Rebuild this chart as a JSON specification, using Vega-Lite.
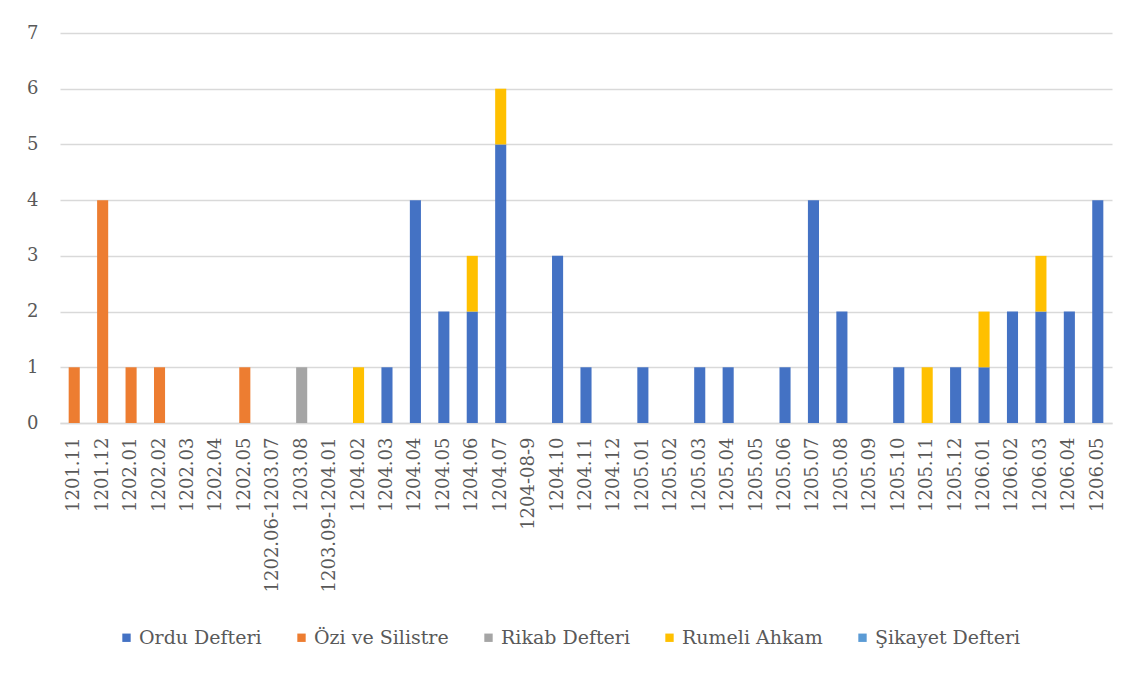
{
  "$schema": "https://vega.github.io/schema/vega-lite/v6.json",
  "width": 1052,
  "height": 390,
  "autosize": {"type": "none"},
  "padding": {"left": 60, "top": 33, "right": 26, "bottom": 252},
  "background": "white",
  "config": {
    "view": {"stroke": null},
    "font": "DejaVu Serif",
    "axis": {"labelFont": "DejaVu Serif", "labelColor": "#595959", "labelFontSize": 18}
  },
  "data": {
    "values": [
      {"period": "1201.11", "series": "Özi ve Silistre", "count": 1},
      {"period": "1201.12", "series": "Özi ve Silistre", "count": 4},
      {"period": "1202.01", "series": "Özi ve Silistre", "count": 1},
      {"period": "1202.02", "series": "Özi ve Silistre", "count": 1},
      {"period": "1202.05", "series": "Özi ve Silistre", "count": 1},
      {"period": "1203.08", "series": "Rikab Defteri", "count": 1},
      {"period": "1204.02", "series": "Rumeli Ahkam", "count": 1},
      {"period": "1204.03", "series": "Ordu Defteri", "count": 1},
      {"period": "1204.04", "series": "Ordu Defteri", "count": 4},
      {"period": "1204.05", "series": "Ordu Defteri", "count": 2},
      {"period": "1204.06", "series": "Ordu Defteri", "count": 2},
      {"period": "1204.06", "series": "Rumeli Ahkam", "count": 1},
      {"period": "1204.07", "series": "Ordu Defteri", "count": 5},
      {"period": "1204.07", "series": "Rumeli Ahkam", "count": 1},
      {"period": "1204.10", "series": "Ordu Defteri", "count": 3},
      {"period": "1204.11", "series": "Ordu Defteri", "count": 1},
      {"period": "1205.01", "series": "Ordu Defteri", "count": 1},
      {"period": "1205.03", "series": "Ordu Defteri", "count": 1},
      {"period": "1205.04", "series": "Ordu Defteri", "count": 1},
      {"period": "1205.06", "series": "Ordu Defteri", "count": 1},
      {"period": "1205.07", "series": "Ordu Defteri", "count": 4},
      {"period": "1205.08", "series": "Ordu Defteri", "count": 2},
      {"period": "1205.10", "series": "Ordu Defteri", "count": 1},
      {"period": "1205.11", "series": "Rumeli Ahkam", "count": 1},
      {"period": "1205.12", "series": "Ordu Defteri", "count": 1},
      {"period": "1206.01", "series": "Ordu Defteri", "count": 1},
      {"period": "1206.01", "series": "Rumeli Ahkam", "count": 1},
      {"period": "1206.02", "series": "Ordu Defteri", "count": 2},
      {"period": "1206.03", "series": "Ordu Defteri", "count": 2},
      {"period": "1206.03", "series": "Rumeli Ahkam", "count": 1},
      {"period": "1206.04", "series": "Ordu Defteri", "count": 2},
      {"period": "1206.05", "series": "Ordu Defteri", "count": 4}
    ]
  },
  "mark": {"type": "bar"},
  "encoding": {
    "x": {
      "field": "period",
      "type": "nominal",
      "scale": {
        "domain": ["1201.11", "1201.12", "1202.01", "1202.02", "1202.03", "1202.04", "1202.05", "1202.06-1203.07", "1203.08", "1203.09-1204.01", "1204.02", "1204.03", "1204.04", "1204.05", "1204.06", "1204.07", "1204-08-9", "1204.10", "1204.11", "1204.12", "1205.01", "1205.02", "1205.03", "1205.04", "1205.05", "1205.06", "1205.07", "1205.08", "1205.09", "1205.10", "1205.11", "1205.12", "1206.01", "1206.02", "1206.03", "1206.04", "1206.05"],
        "paddingInner": 0.61,
        "paddingOuter": 0.305
      },
      "axis": {
        "title": null,
        "labelAngle": -90,
        "ticks": false,
        "labelPadding": 14,
        "domainColor": "#d9d9d9",
        "domainWidth": 1.5,
        "labelBaseline": "middle"
      }
    },
    "y": {
      "field": "count",
      "type": "quantitative",
      "aggregate": "sum",
      "stack": "zero",
      "scale": {"domain": [0, 7], "nice": false},
      "axis": {
        "title": null,
        "values": [0, 1, 2, 3, 4, 5, 6, 7],
        "domain": false,
        "ticks": false,
        "labelPadding": 22,
        "gridColor": "#d9d9d9",
        "gridWidth": 1.5
      }
    },
    "order": {"field": "series", "sort": "ascending"},
    "color": {
      "field": "series",
      "type": "nominal",
      "scale": {
        "domain": ["Ordu Defteri", "Özi ve Silistre", "Rikab Defteri", "Rumeli Ahkam", "Şikayet Defteri"],
        "range": ["#4472C4", "#ED7D31", "#A5A5A5", "#FFC000", "#5B9BD5"]
      },
      "legend": {
        "title": null,
        "orient": "none",
        "direction": "horizontal",
        "legendX": 57,
        "legendY": 595,
        "symbolType": "square",
        "symbolSize": 70,
        "symbolStrokeWidth": 0,
        "labelFont": "DejaVu Serif",
        "labelFontSize": 19,
        "labelColor": "#595959",
        "labelOffset": 3,
        "columnPadding": 30,
        "padding": 0
      }
    }
  }
}
